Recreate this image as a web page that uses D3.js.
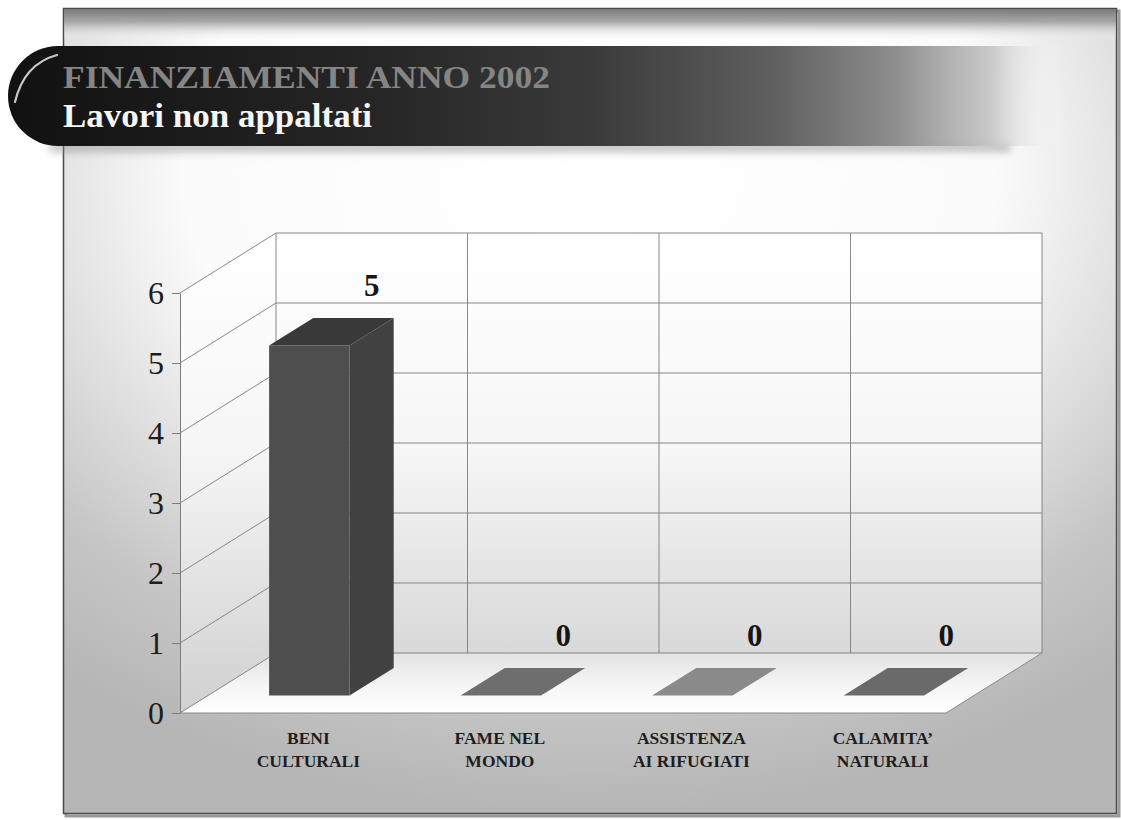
<!DOCTYPE html>
<html>
<head>
<meta charset="utf-8">
<script src="https://cdn.jsdelivr.net/npm/d3@7"></script>
<style>
  body { margin: 0; background: #ffffff; }
  svg { display: block; }
</style>
</head>
<body>
<svg id="chart" width="1121" height="820"></svg>
<script>
// ---- data ----
const titleTop = "FINANZIAMENTI ANNO 2002";
const titleSub = "Lavori non appaltati";
const categories = ["BENI CULTURALI", "FAME NEL MONDO", "ASSISTENZA AI RIFUGIATI", "CALAMITA’ NATURALI"];
const categoryLines = [["BENI", "CULTURALI"], ["FAME NEL", "MONDO"], ["ASSISTENZA", "AI RIFUGIATI"], ["CALAMITA’", "NATURALI"]];
const values = [5, 0, 0, 0];
const yTicks = [0, 1, 2, 3, 4, 5, 6];

// ---- styles ----
const frontColors = ["#4e4e4e", "#6e6e6e", "#8a8a8a", "#6a6a6a"];
const topColors   = ["#393939", "#6e6e6e", "#8a8a8a", "#6a6a6a"];
const sideColors  = ["#414141", "#5e5e5e", "#767676", "#5a5a5a"];
const serif = "'Liberation Serif', 'Times New Roman', serif";
const gridColor = "#7c7c7c";

const svg = d3.select("#chart");
const defs = svg.append("defs");

// slide background: white near the top, greying towards the edges
const bg = defs.append("radialGradient").attr("id", "slideBg")
  .attr("cx", 0.5).attr("cy", 0.2).attr("r", 0.8).attr("fx", 0.5).attr("fy", 0.2);
bg.append("stop").attr("offset", 0).attr("stop-color", "#ffffff");
bg.append("stop").attr("offset", 0.48).attr("stop-color", "#fbfbfb");
bg.append("stop").attr("offset", 0.82).attr("stop-color", "#c6c6c6");
bg.append("stop").attr("offset", 1).attr("stop-color", "#b6b6b6");

const topBand = defs.append("linearGradient").attr("id", "topBand")
  .attr("x1", 0).attr("y1", 0).attr("x2", 0).attr("y2", 1);
topBand.append("stop").attr("offset", 0).attr("stop-color", "#7a7a7a").attr("stop-opacity", 1);
topBand.append("stop").attr("offset", 0.4).attr("stop-color", "#a0a0a0").attr("stop-opacity", 0.9);
topBand.append("stop").attr("offset", 1).attr("stop-color", "#ffffff").attr("stop-opacity", 0);

const headBar = defs.append("linearGradient").attr("id", "headBar")
  .attr("gradientUnits", "userSpaceOnUse").attr("x1", 8).attr("y1", 0).attr("x2", 1065).attr("y2", 0);
[[0, "#111111", 1], [0.35, "#262626", 1], [0.55, "#3a3a3a", 1], [0.72, "#5e5e5e", 1],
 [0.84, "#8e8e8e", 1], [0.93, "#c4c4c4", 0.9], [1, "#ffffff", 0]].forEach(([o, c, a]) =>
  headBar.append("stop").attr("offset", o).attr("stop-color", c).attr("stop-opacity", a));

const wallGrad = defs.append("linearGradient").attr("id", "wallGrad")
  .attr("gradientUnits", "userSpaceOnUse").attr("x1", 0).attr("y1", 233).attr("x2", 0).attr("y2", 713);
wallGrad.append("stop").attr("offset", 0).attr("stop-color", "#ffffff");
wallGrad.append("stop").attr("offset", 0.45).attr("stop-color", "#f6f6f6");
wallGrad.append("stop").attr("offset", 1).attr("stop-color", "#d0d0d0");

const floorGrad = defs.append("linearGradient").attr("id", "floorGrad")
  .attr("x1", 0).attr("y1", 0).attr("x2", 0).attr("y2", 1);
floorGrad.append("stop").attr("offset", 0).attr("stop-color", "#e2e2e2");
floorGrad.append("stop").attr("offset", 0.6).attr("stop-color", "#f7f7f7");
floorGrad.append("stop").attr("offset", 1).attr("stop-color", "#ffffff");

const blur = defs.append("filter").attr("id", "soft").attr("x", -0.1).attr("y", -1).attr("width", 1.2).attr("height", 3);
blur.append("feGaussianBlur").attr("stdDeviation", 4);

// ---- slide frame ----
svg.append("rect").attr("x", 66).attr("y", 11).attr("width", 1053).attr("height", 805)
  .attr("fill", "none").attr("stroke", "#9a9a9a").attr("stroke-width", 3);
svg.append("rect").attr("x", 63.5).attr("y", 8.5).attr("width", 1053).attr("height", 805)
  .attr("fill", "url(#slideBg)").attr("stroke", "#4a4a4a").attr("stroke-width", 1.5);
svg.append("rect").attr("x", 64).attr("y", 9).attr("width", 1052).attr("height", 32)
  .attr("fill", "url(#topBand)");

// ---- header band ----
const hx = 8, hy = 46, hh = 100, hw = 1060, rx = 50;
svg.append("rect").attr("x", 50).attr("y", hy + hh - 4).attr("width", 960).attr("height", 10)
  .attr("fill", "#8a8a8a").attr("opacity", 0.55).attr("filter", "url(#soft)");
svg.append("path")
  .attr("d", `M${hx + rx},${hy} L${hx + hw},${hy} L${hx + hw},${hy + hh} L${hx + rx},${hy + hh}
              A${rx},${hh / 2} 0 0 1 ${hx},${hy + hh / 2} A${rx},${hh / 2} 0 0 1 ${hx + rx},${hy} Z`)
  .attr("fill", "url(#headBar)");
// gloss highlight on the rounded end
svg.append("path")
  .attr("d", `M57,55 Q24,64 15,102`)
  .attr("fill", "none").attr("stroke", "#e8e8e8").attr("stroke-width", 2.2)
  .attr("stroke-linecap", "round").attr("opacity", 0.85);

svg.append("text").attr("x", 63).attr("y", 88)
  .attr("font-family", serif).attr("font-size", 32).attr("font-weight", "bold")
  .attr("fill", "#858585").attr("textLength", 487).attr("lengthAdjust", "spacingAndGlyphs")
  .text(titleTop);
svg.append("text").attr("x", 63).attr("y", 127)
  .attr("font-family", serif).attr("font-size", 33).attr("font-weight", "bold")
  .attr("fill", "#f6f6f6").attr("textLength", 309).attr("lengthAdjust", "spacingAndGlyphs")
  .text(titleSub);

// ---- 3D bar chart ----
const X0 = 180, plotW = 766, DX = 96, DY = 60;
const x = d3.scaleBand().domain(categories).range([0, plotW]).paddingInner(0).paddingOuter(0);
const y = d3.scaleLinear().domain([0, 6]).range([713, 293]);
const bw = x.bandwidth();
// project a front-plane position (px, value) pushed back by depth d in [0,1]
const proj = (px, v, d) => [X0 + px + d * DX, y(v) - d * DY];
const poly = pts => "M" + pts.map(p => p.join(",")).join("L") + "Z";
const vMax = d3.max(yTicks);

const chart = svg.append("g");

// walls and floor
chart.append("path").attr("d", poly([proj(0, vMax, 1), proj(plotW, vMax, 1), proj(plotW, 0, 1), proj(0, 0, 1)]))
  .attr("fill", "url(#wallGrad)");
chart.append("path").attr("d", poly([proj(0, 0, 0), proj(0, vMax, 0), proj(0, vMax, 1), proj(0, 0, 1)]))
  .attr("fill", "url(#wallGrad)");
chart.append("path").attr("d", poly([proj(0, 0, 0), proj(plotW, 0, 0), proj(plotW, 0, 1), proj(0, 0, 1)]))
  .attr("fill", "url(#floorGrad)");

// horizontal gridlines on side wall and back wall
chart.append("g").selectAll("path").data(yTicks).join("path")
  .attr("d", v => "M" + [proj(0, v, 0), proj(0, v, 1), proj(plotW, v, 1)].map(p => p.join(",")).join("L"))
  .attr("fill", "none").attr("stroke", gridColor).attr("stroke-width", 0.9);

// vertical dividers on the back wall
const dividers = categories.map(c => x(c)).concat([plotW]);
chart.append("g").selectAll("line").data(dividers).join("line")
  .attr("x1", b => proj(b, 0, 1)[0]).attr("y1", b => proj(b, 0, 1)[1])
  .attr("x2", b => proj(b, vMax, 1)[0]).attr("y2", b => proj(b, vMax, 1)[1])
  .attr("stroke", gridColor).attr("stroke-width", 0.9);

// floor outline
chart.append("path")
  .attr("d", "M" + [proj(0, 0, 0), proj(plotW, 0, 0), proj(plotW, 0, 1)].map(p => p.join(",")).join("L"))
  .attr("fill", "none").attr("stroke", "#8a8a8a").attr("stroke-width", 1);

// y axis on the front edge
const yAxis = d3.axisLeft(y).tickValues(yTicks).tickSize(8).tickSizeOuter(0).tickPadding(8)
  .tickFormat(d3.format("d"));
chart.append("g").attr("transform", `translate(${X0},0)`).call(yAxis)
  .call(g => {
    g.select(".domain").attr("stroke", gridColor).attr("stroke-width", 1);
    g.selectAll(".tick line").attr("stroke", gridColor).attr("stroke-width", 1);
    g.selectAll(".tick text").attr("font-family", serif).attr("font-size", 32)
      .attr("fill", "#1c1c1c");
  });

// bars
const d0 = 0.29, d1 = 0.75;
const bars = chart.append("g").selectAll("g").data(categories).join("g");
bars.each(function (c, i) {
  const g = d3.select(this);
  const v = values[i];
  const bx0 = x(c) + bw * 0.32, bx1 = x(c) + bw * 0.74;
  if (v > 0) {
    g.append("path").attr("d", poly([proj(bx0, 0, d0), proj(bx1, 0, d0), proj(bx1, v, d0), proj(bx0, v, d0)]))
      .attr("fill", frontColors[i]);
    g.append("path").attr("d", poly([proj(bx1, 0, d0), proj(bx1, 0, d1), proj(bx1, v, d1), proj(bx1, v, d0)]))
      .attr("fill", sideColors[i]);
  }
  g.append("path").attr("d", poly([proj(bx0, v, d0), proj(bx1, v, d0), proj(bx1, v, d1), proj(bx0, v, d1)]))
    .attr("fill", topColors[i]);
});

// value labels, placed on the back wall above each category
chart.append("g").selectAll("text").data(categories).join("text")
  .attr("x", c => proj(x(c) + bw / 2, 0, 1)[0])
  .attr("y", (c, i) => proj(0, values[i], 1)[1] - 7)
  .attr("text-anchor", "middle")
  .attr("font-family", serif).attr("font-size", 31).attr("font-weight", "bold").attr("fill", "#151515")
  .text((c, i) => values[i]);

// category labels
const catG = chart.append("g").selectAll("text").data(categories).join("text")
  .attr("text-anchor", "middle")
  .attr("font-family", serif).attr("font-size", 17.5).attr("font-weight", "bold").attr("fill", "#1e1e1e");
catG.selectAll("tspan").data((c, i) => categoryLines[i].map(t => ({ t, c }))).join("tspan")
  .attr("x", d => X0 + x(d.c) + bw / 2 + 0.34 * DX)
  .attr("y", (d, j) => 744 + j * 23)
  .text(d => d.t);
</script>
</body>
</html>
